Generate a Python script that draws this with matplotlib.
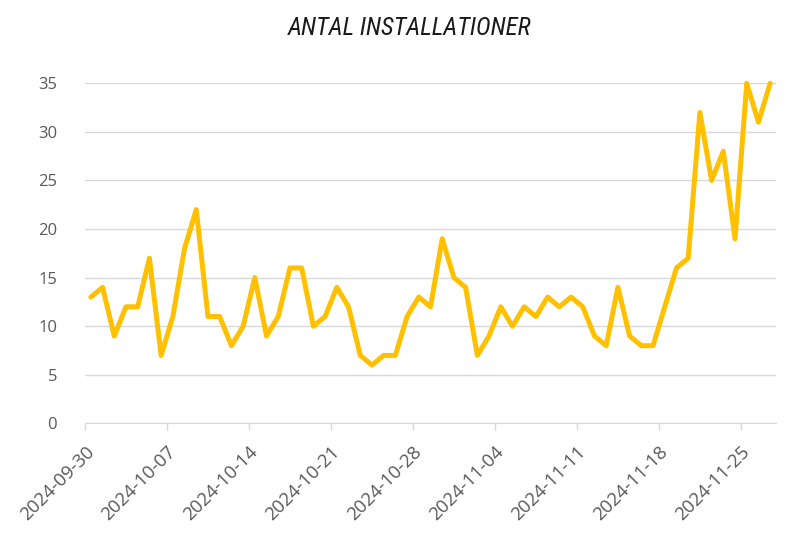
import numpy as np
import pandas as pd
import matplotlib
matplotlib.use("Agg")
import matplotlib.pyplot as plt
import matplotlib.dates as mdates

start_date = "2024-09-30"
installations = [13, 14, 9, 12, 12, 17, 7, 11, 18, 22,
                 11, 11, 8, 10, 15, 9, 11, 16, 16, 10,
                 11, 14, 12, 7, 6, 7, 7, 11, 13, 12,
                 19, 15, 14, 7, 9, 12, 10, 12, 11, 13,
                 12, 13, 12, 9, 8, 14, 9, 8, 8, 12,
                 16, 17, 32, 25, 28, 19, 35, 31, 35]
title = "ANTAL INSTALLATIONER"

dates = pd.date_range(start_date, periods=len(installations), freq="D")
# points sit in the middle of each day, like the original
x = dates + pd.Timedelta(hours=12)

plt.rcParams['font.family'] = ['Open Sans', 'DejaVu Sans']

fig = plt.figure(figsize=(7.9, 5.33), dpi=100)
ax = fig.add_axes([0.1076, 0.2056, 0.8747, 0.6381])

ax.plot(x, installations, color="#FFC000", lw=3.6, solid_joinstyle="round",
        solid_capstyle="round", clip_on=False, zorder=3)

ax.set_xlim(dates[0], dates[-1] + pd.Timedelta(days=1))
ax.set_ylim(0, 35)
ax.set_yticks(np.arange(0, 36, 5))
ax.yaxis.grid(True, color="#D9D9D9", lw=1)
ax.set_axisbelow(True)

ax.set_xticks(pd.date_range(start_date, dates[-1], freq="7D"))
ax.xaxis.set_major_formatter(mdates.DateFormatter("%Y-%m-%d"))

for s in ["top", "right", "left"]:
    ax.spines[s].set_visible(False)
ax.spines["bottom"].set_color("#D9D9D9")
ax.tick_params(axis="y", length=0, pad=20, labelsize=12, labelcolor="#595959")
ax.tick_params(axis="x", length=5, color="#D9D9D9", width=1, pad=9,
               labelsize=13.3, labelcolor="#595959")
plt.setp(ax.get_xticklabels(), rotation=45, ha="right", rotation_mode="anchor")

fig.text(0.519, 0.948, title, ha="center", va="center", fontsize=18,
         family=["Roboto Condensed", "DejaVu Sans"], stretch="condensed",
         style="italic", color="#1a1a1a")

fig.savefig("out.png", dpi=100, facecolor="white")
